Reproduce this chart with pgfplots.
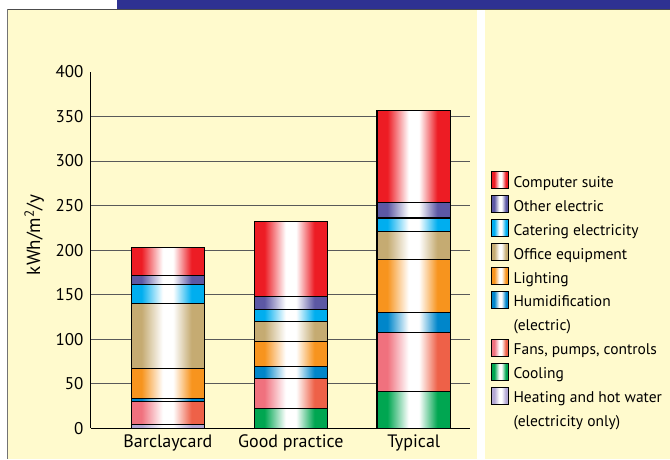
\documentclass[border=0pt]{standalone}
\usepackage{fontspec}
\setmainfont{PT Sans}
\usepackage{pgfplots}
\pgfplotsset{compat=1.18}

\definecolor{cream}{RGB}{255,250,205}
\definecolor{band}{RGB}{46,49,146}
\definecolor{cRed}{RGB}{237,28,36}
\definecolor{cOther}{RGB}{92,88,164}
\definecolor{cCater}{RGB}{0,174,239}
\definecolor{cOffice}{RGB}{197,171,114}
\definecolor{cLight}{RGB}{247,148,30}
\definecolor{cHumid}{RGB}{0,134,202}
\definecolor{cFansL}{RGB}{240,113,126}
\definecolor{cFansR}{RGB}{238,97,72}
\definecolor{cCool}{RGB}{0,166,81}
\definecolor{cHeat}{RGB}{180,168,212}

\newcommand\mkshade[3]{\pgfdeclarehorizontalshading{#1}{100bp}{color(0bp)=(#2); color(32bp)=(#2); color(46.5bp)=(white); color(53.5bp)=(white); color(66bp)=(#3); color(100bp)=(#3)}}
\mkshade{shRed}{cRed}{cRed}
\mkshade{shOther}{cOther}{cOther}
\mkshade{shCater}{cCater}{cCater}
\mkshade{shOffice}{cOffice}{cOffice}
\mkshade{shLight}{cLight}{cLight}
\mkshade{shHumid}{cHumid}{cHumid}
\mkshade{shFans}{cFansL}{cFansR}
\mkshade{shCool}{cCool}{cCool}
\mkshade{shHeat}{cHeat}{cHeat}

\newcommand\legsq[1]{\addlegendimage{legend image code/.code={\draw[draw=black,line width=0.9pt,shade,shading=#1] (0pt,-5pt) rectangle (17pt,12pt);}}}
\newcommand\legempty{\addlegendimage{legend image code/.code={\path[use as bounding box, draw=none, fill=none] (-0.45pt,-5.45pt) rectangle (17.45pt,12.45pt);}}}

\pgfplotsset{
  barax/.style={
    at={(91pt,-428.5pt)}, anchor=south west,
    scale only axis, width=379pt, height=356.5pt,
    xmin=-0.626, xmax=2.455, ymin=0, ymax=400,
    ybar stacked, bar width=73.5pt,
  },
  seg/.style={draw=black, line width=1.1pt, shade, shading=#1},
}

\begin{document}
\begin{tikzpicture}
\begin{scope}[x=1pt,y=1pt]
\fill[white] (0,0) rectangle (670,-459);
\fill[cream] (8.3,-10) rectangle (477.7,-459);
\fill[cream] (485,-10) rectangle (670,-459);
\fill[band] (116.7,0) rectangle (670,-9.2);
\draw[black!70, line width=0.9pt] (7.5,-9.6) -- (670,-9.6);
\draw[black!55, line width=1.5pt] (7.4,-9.2) -- (7.4,-459);
\end{scope}
% main axis: grid, labels, legend, Barclaycard bar
\begin{axis}[barax,
  axis x line*=bottom, axis y line*=left,
  axis line style={black, line width=1.1pt},
  xtick={0,1,2}, xticklabels={Barclaycard, Good practice, Typical},
  ytick={0,50,...,350}, extra y ticks={400}, extra y tick style={grid=none},
  ymajorgrids, grid style={black!65, line width=0.9pt},
  major tick length=0pt,
  /pgf/number format/assume math mode=true,
  xticklabel style={font=\fontsize{18}{21}\selectfont, yshift=-3pt},
  yticklabel style={font=\fontsize{17}{20}\selectfont, xshift=-4pt},
  ylabel={kWh/m\textsuperscript{2}/y},
  ylabel style={font=\fontsize{19}{22}\selectfont, at={(axis description cs:-0.15,0.543)}, anchor=center},
  legend cell align=left,
  legend style={at={(axis description cs:1.0573,0.7209)}, anchor=north west,
    draw=none, fill=none, inner sep=0pt, outer sep=0pt,
    cells={anchor=west}, row sep=3pt, column sep=4.3pt,
    font=\fontsize{15.5}{18}\selectfont,
    nodes={inner sep=0pt, text height=12pt, text depth=5pt}},
]
\legsq{shRed}\addlegendentry{Computer suite}
\legsq{shOther}\addlegendentry{Other electric}
\legsq{shCater}\addlegendentry{Catering electricity}
\legsq{shOffice}\addlegendentry{Office equipment}
\legsq{shLight}\addlegendentry{Lighting}
\legsq{shHumid}\addlegendentry{Humidification}
\legempty\addlegendentry{(electric)}
\legsq{shFans}\addlegendentry{Fans, pumps, controls}
\legsq{shCool}\addlegendentry{Cooling}
\legsq{shHeat}\addlegendentry{Heating and hot water}
\legempty\addlegendentry{(electricity only)}
% Barclaycard (cooling = 0)
\addplot[seg=shHeat]   coordinates {(0,4.5)};
\addplot[seg=shFans]   coordinates {(0,25.5)};
\addplot[seg=shHumid]  coordinates {(0,3.5)};
\addplot[seg=shLight]  coordinates {(0,34)};
\addplot[seg=shOffice] coordinates {(0,73)};
\addplot[seg=shCater]  coordinates {(0,20.5)};
\addplot[seg=shOther]  coordinates {(0,10)};
\addplot[seg=shRed]    coordinates {(0,32)};
\end{axis}
% Good practice (heating = 0)
\begin{axis}[barax, hide axis]
\addplot[seg=shCool]   coordinates {(1,22)};
\addplot[seg=shFans]   coordinates {(1,34)};
\addplot[seg=shHumid]  coordinates {(1,13)};
\addplot[seg=shLight]  coordinates {(1,28.5)};
\addplot[seg=shOffice] coordinates {(1,22.5)};
\addplot[seg=shCater]  coordinates {(1,13.5)};
\addplot[seg=shOther]  coordinates {(1,14.5)};
\addplot[seg=shRed]    coordinates {(1,84.5)};
\end{axis}
% Typical (heating = 0)
\begin{axis}[barax, hide axis]
\addplot[seg=shCool]   coordinates {(2,41)};
\addplot[seg=shFans]   coordinates {(2,66)};
\addplot[seg=shHumid]  coordinates {(2,23)};
\addplot[seg=shLight]  coordinates {(2,59)};
\addplot[seg=shOffice] coordinates {(2,32)};
\addplot[seg=shCater]  coordinates {(2,15)};
\addplot[seg=shOther]  coordinates {(2,17)};
\addplot[seg=shRed]    coordinates {(2,104)};
\end{axis}
\end{tikzpicture}
\end{document}
